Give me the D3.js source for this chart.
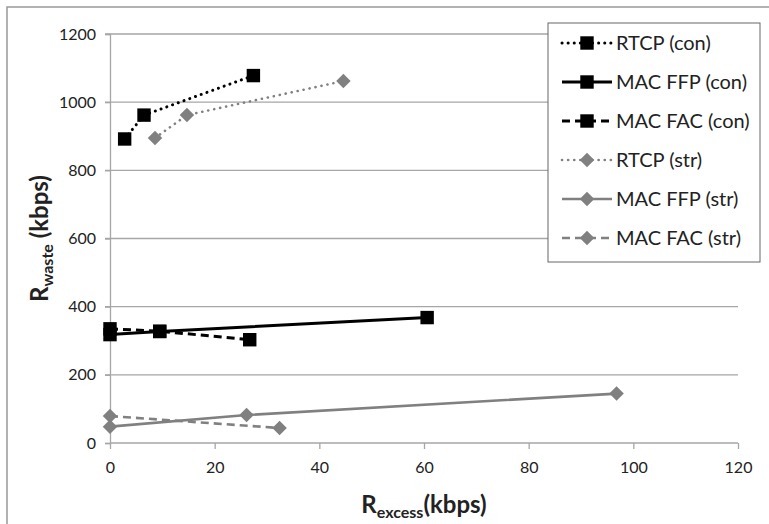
<!DOCTYPE html>
<meta charset="utf-8">
<script src="https://d3js.org/d3.v7.min.js"></script>
<style>
  body { margin: 0; background: #fff; }
  text { font-family: Lato, "Open Sans", sans-serif; fill: #222; }
</style>
<div id="chart"></div>
<script>
// data (x = R_excess kbps, y = R_waste kbps)
var rtcpCon   = [[2.8, 892], [6.5, 962], [27.4, 1078]];
var ffpCon    = [[0, 318], [9.5, 327], [60.6, 368]];
var facCon    = [[0, 335], [9.5, 328], [26.7, 303]];
var rtcpStr   = [[8.6, 895], [14.7, 962], [44.6, 1062]];
var ffpStr    = [[0, 48], [26.1, 82], [96.8, 145]];
var facStr    = [[0, 79], [32.4, 44]];

var seriesNames = ["RTCP (con)", "MAC FFP (con)", "MAC FAC (con)", "RTCP (str)", "MAC FFP (str)", "MAC FAC (str)"];
var xTicks = [0, 20, 40, 60, 80, 100, 120];
var yTicks = [0, 200, 400, 600, 800, 1000, 1200];

var series = [
  {name: seriesNames[0], pts: rtcpCon, color: "#000", dash: "0.1 6", shape: "square"},
  {name: seriesNames[1], pts: ffpCon,  color: "#000", dash: null,    shape: "square"},
  {name: seriesNames[2], pts: facCon,  color: "#000", dash: "8 5",   shape: "square"},
  {name: seriesNames[3], pts: rtcpStr, color: "#808080", dash: "0.1 6", shape: "diamond"},
  {name: seriesNames[4], pts: ffpStr,  color: "#808080", dash: null,    shape: "diamond"},
  {name: seriesNames[5], pts: facStr,  color: "#808080", dash: "8 5",   shape: "diamond"}
];

var W = 769, H = 524;
var margin = {left: 110, right: 738, top: 34, bottom: 443};

var svg = d3.select("#chart").append("svg")
  .attr("width", W).attr("height", H);

// outer chart frame
svg.append("rect")
  .attr("x", 7).attr("y", 7).attr("width", W).attr("height", H)
  .attr("fill", "none").attr("stroke", "#999").attr("stroke-width", 1.5);

var x = d3.scaleLinear().domain([0, 120]).range([margin.left, margin.right]);
var y = d3.scaleLinear().domain([0, 1200]).range([margin.bottom, margin.top]);

// gridlines
svg.append("g").selectAll("line")
  .data(yTicks.filter(d => d > 0))
  .enter().append("line")
    .attr("x1", margin.left - 5).attr("x2", margin.right)
    .attr("y1", d => y(d)).attr("y2", d => y(d))
    .style("stroke", "#a6a6a6").style("stroke-width", 1.3);

// y axis
var yAxis = svg.append("g")
  .attr("transform", "translate(" + margin.left + ",0)")
  .call(d3.axisLeft(y).tickValues(yTicks).tickFormat(d3.format("d")).tickSize(5).tickPadding(9));
yAxis.selectAll("line, path").style("stroke", "#a6a6a6").style("stroke-width", 1.3);
yAxis.selectAll("text").style("font-size", "16px").style("font-family", "Lato, sans-serif").attr("fill", "#222");

// x axis
var xAxis = svg.append("g")
  .attr("transform", "translate(0," + margin.bottom + ")")
  .call(d3.axisBottom(x).tickValues(xTicks).tickSize(6).tickPadding(13));
xAxis.selectAll("line, path").style("stroke", "#a6a6a6").style("stroke-width", 1.3);
xAxis.select("path").attr("d", "M" + margin.left + ",0H" + margin.right);
xAxis.selectAll("text").style("font-size", "16px").style("font-family", "Lato, sans-serif").attr("fill", "#222");

// axis titles
var yl = svg.append("text")
  .attr("transform", "translate(48," + ((margin.top + margin.bottom) / 2) + ") rotate(-90)")
  .attr("text-anchor", "middle")
  .style("font-weight", "bold").style("font-size", "24px");
yl.append("tspan").text("R");
yl.append("tspan").text("waste").style("font-size", "16px").attr("dy", 5);
yl.append("tspan").text(" (kbps)").attr("dy", -5);

var xl = svg.append("text")
  .attr("x", (margin.left + margin.right) / 2).attr("y", 513)
  .attr("text-anchor", "middle")
  .style("font-weight", "bold").style("font-size", "24px");
xl.append("tspan").text("R");
xl.append("tspan").text("excess").style("font-size", "16px").attr("dy", 5);
xl.append("tspan").text("(kbps)").attr("dy", -5);

var line = d3.line().x(d => x(d[0])).y(d => y(d[1]));
var sqSym = d3.symbol().type(d3.symbolSquare).size(180);
var dmSym = d3.symbol().type(d3.symbolSquare).size(105);

function marker(s, cx, cy) {
  return "translate(" + cx + "," + cy + ")" + (s.shape == "diamond" ? " rotate(45)" : "");
}

function styleLine(sel, s) {
  sel.attr("fill", "none")
    .attr("stroke", s.color)
    .attr("stroke-width", s.shape == "square" ? 3 : 2.6)
    .attr("stroke-linecap", s.dash && s.dash.indexOf("0.1") == 0 ? "round" : "butt")
    .attr("stroke-dasharray", s.dash);
}

// draw series lines, then markers
series.forEach(function(s) {
  svg.append("path").datum(s.pts).attr("d", line).call(styleLine, s);
});
series.forEach(function(s) {
  svg.append("g").selectAll("path")
    .data(s.pts)
    .enter().append("path")
      .attr("d", s.shape == "square" ? sqSym : dmSym)
      .attr("transform", d => marker(s, x(d[0]), y(d[1])))
      .attr("fill", s.color);
});

// legend
var lg = svg.append("g");
lg.append("rect")
  .attr("x", 548).attr("y", 23).attr("width", 212).attr("height", 239)
  .attr("fill", "#fff").attr("stroke", "#666").attr("stroke-width", 1);

var ly = d3.scalePoint().domain(seriesNames).range([43, 238]);
series.forEach(function(s) {
  var yy = ly(s.name);
  lg.append("path").attr("d", "M562," + yy + "H612").call(styleLine, s);
  lg.append("path")
    .attr("d", s.shape == "square" ? sqSym : dmSym)
    .attr("transform", marker(s, 587, yy))
    .attr("fill", s.color);
  lg.append("text")
    .attr("x", 616).attr("y", yy + 7)
    .style("font-size", "20px")
    .text(s.name);
});
</script>
